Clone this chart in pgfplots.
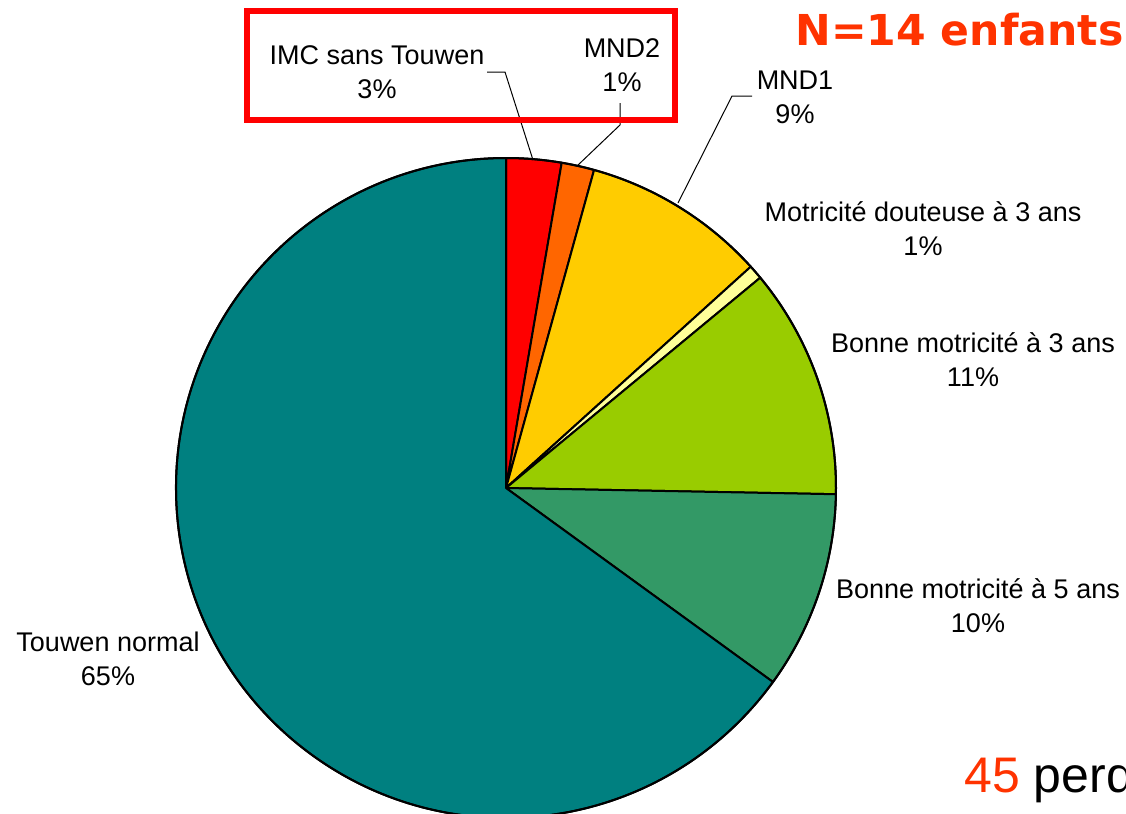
\documentclass[border=0pt]{standalone}
\usepackage{pgfplots}
\pgfplotsset{compat=1.18}
\usepackage{pgfplotstable}
\usepackage{fontspec}
\setmainfont{Liberation Sans}
\newfontfamily\verdana{DejaVu Sans}
\definecolor{cIMC}{HTML}{FF0000}
\definecolor{cMNDtwo}{HTML}{FF6600}
\definecolor{cMNDone}{HTML}{FFCC00}
\definecolor{cDout}{HTML}{FFFF99}
\definecolor{cBtrois}{HTML}{99CC00}
\definecolor{cBcinq}{HTML}{339966}
\definecolor{cTouwen}{HTML}{008080}
\definecolor{titre}{HTML}{FF3300}

\pgfplotstableread{
value col
2.7 cIMC
1.6 cMNDtwo
9.0 cMNDone
0.7 cDout
11.3 cBtrois
9.7 cBcinq
65.0 cTouwen
}\piedata

\begin{document}
\begin{tikzpicture}
\useasboundingbox (0,0) rectangle (563pt,407pt);
\begin{axis}[at={(0,0)}, anchor=south west, width=563pt, height=407pt,
  scale only axis, hide axis, xmin=0, xmax=1126, ymin=0, ymax=814,
  y dir=reverse, clip=false]
\pgfplotstablegetrowsof{\piedata}
\pgfmathtruncatemacro{\nrows}{\pgfplotsretval-1}
\def\cum{0}
\pgfplotsforeachungrouped \i in {0,...,\nrows}{%
  \pgfplotstablegetelem{\i}{value}\of{\piedata}\let\v\pgfplotsretval
  \pgfplotstablegetelem{\i}{col}\of{\piedata}\let\c\pgfplotsretval
  \pgfmathsetmacro{\a}{90-3.6*\cum}%
  \pgfmathsetmacro{\b}{90-3.6*(\cum+\v)}%
  \pgfmathsetmacro{\cum}{\cum+\v}%
  \edef\temp{\noexpand\filldraw[fill=\c, draw=black, line width=1pt, line join=round] (axis cs:506,488) -- ++(\a:165pt) arc[start angle=\a, end angle=\b, radius=165pt] -- cycle;}%
  \temp
}
\draw[line width=1pt] (axis cs:506,488) circle[radius=165pt];

\tikzset{lab/.style={align=center, font=\fontsize{13.5pt}{17pt}\selectfont, inner sep=0pt}}
\node[lab] at (axis cs:377,72) {IMC sans Touwen\\3\%};
\node[lab] at (axis cs:622,65) {MND2\\1\%};
\node[lab] at (axis cs:795,97) {MND1\\9\%};
\node[lab] at (axis cs:923,229) {Motricité douteuse à 3 ans\\1\%};
\node[lab] at (axis cs:973,360) {Bonne motricité à 3 ans\\11\%};
\node[lab] at (axis cs:978,606) {Bonne motricité à 5 ans\\10\%};
\node[lab] at (axis cs:108,659) {Touwen normal\\65\%};

\draw[line width=0.5pt] (axis cs:487,72) -- (axis cs:505,72) -- (axis cs:533,160);
\draw[line width=0.5pt] (axis cs:620,103) -- (axis cs:620,125) -- (axis cs:577,166);
\draw[line width=0.5pt] (axis cs:752,96) -- (axis cs:732,96) -- (axis cs:678,203);

\draw[cIMC, line width=3pt] (axis cs:247,11) rectangle (axis cs:675,120);

\node[anchor=base west, inner sep=0pt, text=titre, font=\verdana\bfseries\fontsize{21.3pt}{24pt}\selectfont] at (axis cs:795,45) {N=14 enfants};
\node[anchor=base west, inner sep=0pt, font=\fontsize{25pt}{30pt}\selectfont] at (axis cs:964,792) {\textcolor{titre}{45} perdus de vue};
\end{axis}
\end{tikzpicture}
\end{document}
